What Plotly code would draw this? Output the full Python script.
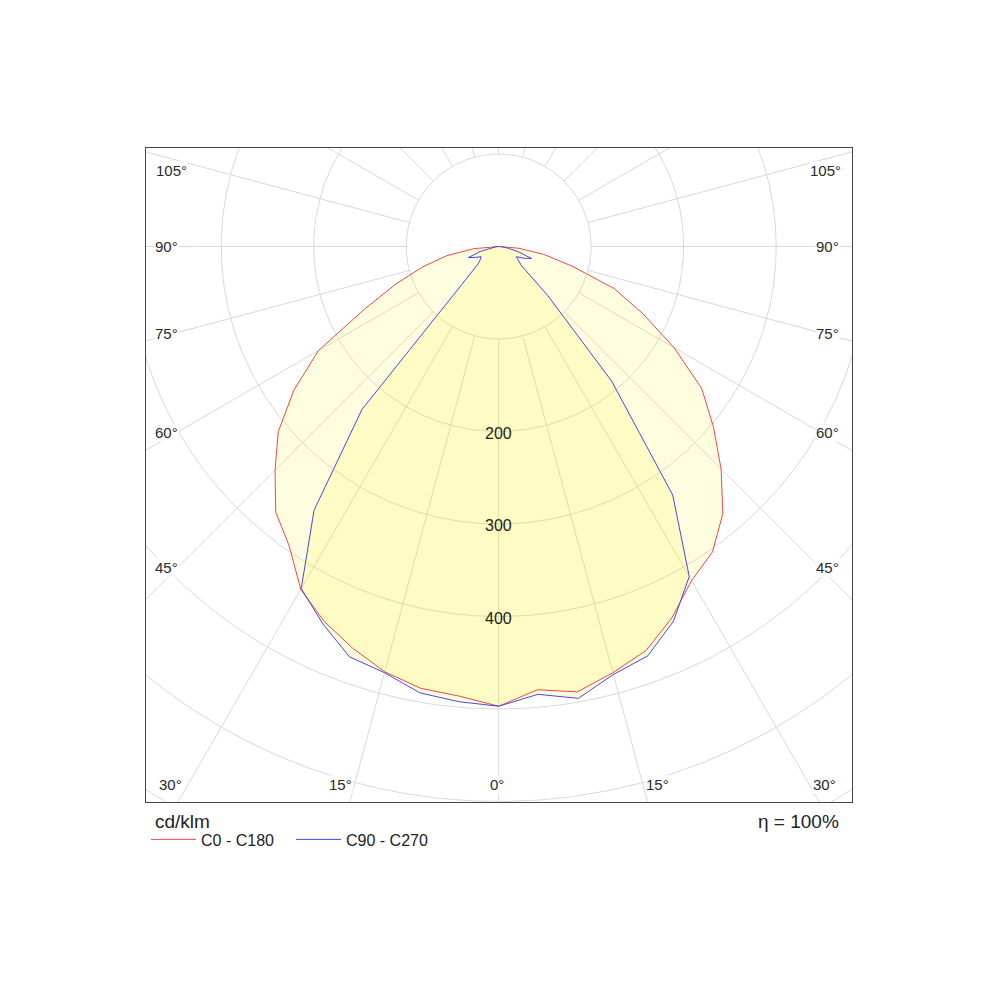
import numpy as np
import plotly.graph_objects as go

# ---- data (cd/klm) ----
gamma = [0, 5, 10, 15, 20, 25, 30, 35, 40, 45, 50, 55, 60, 65, 70, 75, 80, 85, 90]
c0 = [497, 481, 489, 477, 465, 443, 417, 403, 377, 340, 303, 268, 219, 172, 133, 82, 50, 22, 0]
c180 = [497, 488, 485, 476, 462, 447, 428, 395, 375, 342, 311, 270, 225, 160, 118, 85, 57, 27, 0]
c90 = [497, 486, 496, 479, 471, 447, 412, 328, 190, 75, 32, 26, 22, 30, 38, 22, 10, 3, 0]
c270 = [497, 494, 490, 477, 472, 450, 427, 348, 230, 50, 29, 24, 22, 28, 35, 20, 8, 3, 0]

series_names = ["C0 - C180", "C90 - C270"]
grid_radii = [100, 200, 300, 400, 500, 600, 700, 800]
spoke_angles = list(range(0, 360, 15))
radial_tick_labels = [200, 300, 400]
angle_tick_labels = ["105°", "90°", "75°", "60°", "45°", "30°", "15°", "0°",
                     "15°", "30°", "45°", "60°", "75°", "90°", "105°"]
# label centres in page pixels
angle_label_px = [(171.3, 170.8), (166.7, 246.7), (166.7, 333), (166.7, 432.5),
                  (166.2, 567.3), (170.5, 784.5), (340, 784.5), (497, 784.5),
                  (657.5, 784.5), (824, 784.5), (827.5, 567), (827.5, 432.5),
                  (827.5, 333), (827.5, 246.7), (825, 170.8)]

FONT = "Liberation Sans, Arial, sans-serif"
L, R, T, B = 146, 148, 148, 198
PW, PH = 1000 - L - R, 1000 - T - B


def px2paper(px, py):
    return (px - L) / PW, (1000 - B - py) / PH


g = np.radians(gamma)


def half(vals, side):
    r = np.array(vals, float)
    return side * r * np.sin(g), -r * np.cos(g)


def outline(right, left):
    xr, yr = half(right, 1)
    xl, yl = half(left, -1)
    return np.concatenate([xr[::-1], xl]), np.concatenate([yr[::-1], yl])


# grid
t = np.linspace(0, 2 * np.pi, 721)
gx, gy = [], []
for Rr in grid_radii:
    gx += list(Rr * np.cos(t)) + [None]
    gy += list(Rr * np.sin(t)) + [None]
for a in spoke_angles:
    ar = np.radians(a)
    gx += [100 * np.sin(ar), 1000 * np.sin(ar), None]
    gy += [-100 * np.cos(ar), -1000 * np.cos(ar), None]

fig = go.Figure()
fig.add_trace(go.Scatter(x=gx, y=gy, mode="lines", line=dict(color="#d9d9d9", width=1),
                         hoverinfo="skip", showlegend=False))

xa, ya = outline(c0, c180)
xb, yb = outline(c90, c270)
fill = "rgba(255,240,0,0.12)"
for xx, yy in [(xa, ya), (xb, yb)]:
    fig.add_trace(go.Scatter(x=xx, y=yy, mode="lines", fill="toself", fillcolor=fill,
                             line=dict(width=0), hoverinfo="skip", showlegend=False))
fig.add_trace(go.Scatter(x=xa, y=ya, mode="lines", name=series_names[0],
                         line=dict(color="#f04848", width=1)))
fig.add_trace(go.Scatter(x=xb, y=yb, mode="lines", name=series_names[1],
                         line=dict(color="#4848e8", width=1)))

ann = []
for txt, (px, py) in zip(angle_tick_labels, angle_label_px):
    ax, ay = px2paper(px, py)
    ann.append(dict(x=ax, y=ay, xref="paper", yref="paper", text=txt, showarrow=False,
                    xanchor="center", yanchor="middle", bgcolor="white", borderpad=0,
                    font=dict(family=FONT, size=15, color="#2a2a2a")))
for v in radial_tick_labels:
    ann.append(dict(x=0, y=-v, xref="x", yref="y", text=str(v), showarrow=False,
                    xanchor="center", yanchor="middle", yshift=-1.5,
                    font=dict(family=FONT, size=16, color="#222222")))
x1, y1 = px2paper(153, 821)
ann.append(dict(x=x1, y=y1, xref="paper", yref="paper", text="cd/klm", showarrow=False,
                xanchor="left", yanchor="middle", font=dict(family=FONT, size=19, color="#222222")))
x2, y2 = px2paper(841, 821)
ann.append(dict(x=x2, y=y2, xref="paper", yref="paper", text="η = 100%", showarrow=False,
                xanchor="right", yanchor="middle", font=dict(family=FONT, size=19, color="#222222")))

lx, ly = px2paper(146, 839.5)
fig.update_layout(
    width=1000, height=1000,
    margin=dict(l=L, r=R, t=T, b=B, pad=0),
    paper_bgcolor="white", plot_bgcolor="white",
    xaxis=dict(range=[(L - 498.7) / 0.925, (1000 - R - 498.7) / 0.925], showgrid=False,
               zeroline=False, showticklabels=False, ticks="", showline=True, mirror=True,
               linecolor="#444444", linewidth=1, fixedrange=True),
    yaxis=dict(range=[(246.5 - (1000 - B)) / 0.925, (246.5 - T) / 0.925], showgrid=False,
               zeroline=False, showticklabels=False, ticks="", showline=True, mirror=True,
               linecolor="#444444", linewidth=1, fixedrange=True),
    showlegend=True,
    legend=dict(orientation="h", x=lx, y=ly, xanchor="left", yanchor="middle",
                font=dict(family=FONT, size=16, color="#222222"), bgcolor="rgba(0,0,0,0)",
                itemwidth=45, entrywidth=85, entrywidthmode="pixels"),
    annotations=ann,
)

fig.write_html("out.html", config={"displayModeBar": False},
               post_script="document.body.style.margin='0';")
